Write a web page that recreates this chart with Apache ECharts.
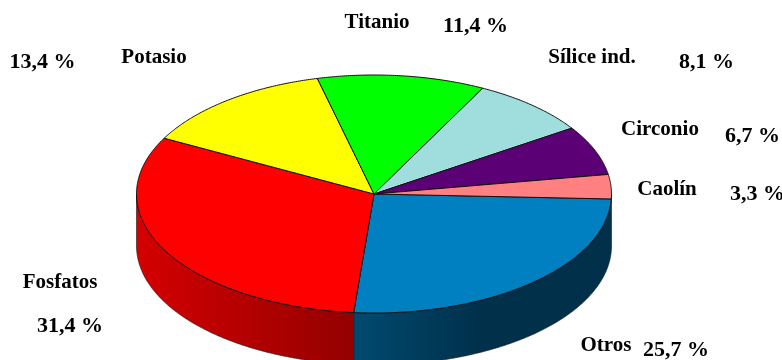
<!DOCTYPE html>
<html><head><meta charset="utf-8">
<style>html,body{margin:0;padding:0;background:#fff}#c{width:782px;height:360px}</style>
<script src="https://cdn.jsdelivr.net/npm/echarts@6/dist/echarts.min.js"></script>
</head><body><div id="c"></div>
<script>
const categories = ['Otros','Fosfatos','Potasio','Titanio','Sílice ind.','Circonio','Caolín'];
const shares = [25.7,31.4,13.4,11.4,8.1,6.7,3.3];
const topColors = ['#0080c0','#ff0000','#ffff00','#00ff00','#a0dddd','#5c0075','#ff8080'];
const wallColors = [['#004a70','#00304a'],['#d40000','#940000']];
const nameAnchors = [[606,346],[60,283],[154,58],[377,23],[592,58],[660,130],[667,190]];
const shareAnchors = [[676,350],[70,326],[42.5,62],[475.5,26],[706.5,62],[752.5,136],[757.5,194]];

const CX=374, CY=194, RX=237.5, RY=119, DEPTH=52, START=2.4;
const rad=d=>d*Math.PI/180;
const pt=(a,dy)=>[CX+RX*Math.cos(rad(a)), CY+RY*Math.sin(rad(a))+(dy||0)];
function arc(a0,a1,dy){const n=Math.max(2,Math.ceil((a1-a0)*2));const p=[];for(let i=0;i<=n;i++)p.push(pt(a0+(a1-a0)*i/n,dy));return p;}
const total=shares.reduce((a,b)=>a+b,0);
const fmt=v=>v.toFixed(1).replace('.',',')+' %';

function renderItem(params,api){
  const i=params.dataIndex;
  let before=0;for(let k=0;k<i;k++)before+=shares[k];
  const a0=START+before/total*360, a1=a0+api.value(0)/total*360;
  const children=[];
  if(wallColors[i]){
    const w0=i===0?0:a0, w1=Math.min(a1,180);
    const pts=arc(w0,w1,0).concat(arc(w0,w1,DEPTH).reverse());
    const stops=i===0
      ?[{offset:0,color:wallColors[i][1]},{offset:0.5,color:wallColors[i][1]},{offset:1,color:wallColors[i][0]}]
      :[{offset:0,color:wallColors[i][1]},{offset:1,color:wallColors[i][0]}];
    children.push({type:'polygon',z2:1,shape:{points:pts},style:{
      fill:new echarts.graphic.LinearGradient(1,0,0,0,stops),
      stroke:'#1a1a1a',lineWidth:0.6}});
  }
  children.push({type:'polygon',z2:5,shape:{points:[[CX,CY]].concat(arc(a0,a1,0))},
    style:{fill:topColors[i],stroke:'#111',lineWidth:1,lineJoin:'round'}});
  return {type:'group',children};
}

const NAME_FONT='bold 21px "Liberation Serif","Times New Roman",serif';
const SHARE_FONT='bold 22px "Liberation Serif","Times New Roman",serif';
const texts=[];
categories.forEach((c,i)=>{
  texts.push({type:'text',x:nameAnchors[i][0],y:nameAnchors[i][1],style:{text:c,font:NAME_FONT,fill:'#000',align:'center',verticalAlign:'middle'}});
  texts.push({type:'text',x:shareAnchors[i][0],y:shareAnchors[i][1],style:{text:fmt(shares[i]),font:SHARE_FONT,fill:'#000',align:'center',verticalAlign:'middle'}});
});

const chart=echarts.init(document.getElementById('c'),null,{renderer:'canvas'});
chart.setOption({
  animation:false,backgroundColor:'#fff',
  series:[{type:'custom',coordinateSystem:'none',renderItem,data:shares.map((v,i)=>({name:categories[i],value:[v]}))}],
  graphic:{elements:texts}
});
</script></body></html>
